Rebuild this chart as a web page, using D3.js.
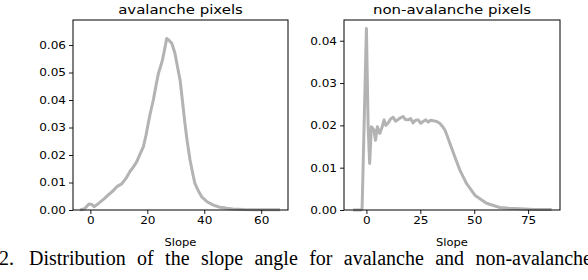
<!DOCTYPE html>
<html>
<head>
<meta charset="utf-8">
<script src="https://cdn.jsdelivr.net/npm/d3@7"></script>
<style>
  body { margin: 0; background: #fff; overflow: hidden; }
  svg { display: block; }
</style>
</head>
<body>
<div id="chart"></div>
<script>
// avalanche pixels: slope (deg) vs density
const avalancheSlope = [-3.6, -2, -0.5, 0.5, 1.3, 3, 5, 6.3, 8, 9.3, 11, 12.5, 13.9, 15, 16.3, 17.5, 18.6, 19.5, 20.1, 21, 22.1, 23, 23.9, 24.6, 25.3, 26, 26.8, 27.5, 28.6, 29.7, 30.6, 31.5, 32.3, 33.2, 34, 35, 36, 36.7, 38, 39.1, 41, 43.2, 45.5, 47.9, 50, 53.7, 58, 62, 66.6];
const avalancheDensity = [0, 0.0005, 0.0022, 0.002, 0.0012, 0.0025, 0.0042, 0.0055, 0.007, 0.0085, 0.0095, 0.0115, 0.014, 0.0155, 0.0176, 0.0205, 0.023, 0.027, 0.0303, 0.035, 0.04, 0.045, 0.0497, 0.052, 0.0545, 0.058, 0.0624, 0.0618, 0.0606, 0.057, 0.052, 0.0473, 0.040, 0.0315, 0.025, 0.0182, 0.013, 0.0097, 0.0068, 0.0048, 0.003, 0.0018, 0.001, 0.0006, 0.0004, 0.0002, 0.0001, 0.0001, 0.0001];

// non-avalanche pixels
const nonAvalancheSlope = [-6.2, -2.5, -2.0, 0, 0.8, 1.5, 2.3, 3.5, 4.2, 5.1, 6.2, 7.2, 8.2, 9, 10, 11.2, 12.4, 13.5, 14.7, 15.8, 17, 18, 19.3, 20.5, 21.6, 22.8, 24, 25.2, 26.3, 27.5, 28.7, 29.8, 30.9, 32, 33, 34, 35.2, 36.4, 37.5, 38.7, 41, 43.3, 46.4, 50.3, 55.7, 61.9, 66, 71.2, 78, 85.9];
const nonAvalancheDensity = [0, 0, 0.0004, 0.0429, 0.0197, 0.011, 0.0197, 0.0189, 0.0165, 0.0197, 0.0181, 0.0195, 0.0213, 0.0200, 0.0205, 0.0215, 0.0219, 0.0210, 0.0214, 0.0218, 0.0221, 0.0214, 0.0213, 0.0216, 0.0206, 0.0212, 0.0213, 0.0205, 0.0209, 0.0213, 0.0208, 0.0212, 0.0211, 0.0210, 0.0208, 0.0205, 0.0198, 0.0189, 0.0175, 0.0158, 0.0126, 0.0095, 0.0063, 0.0035, 0.0016, 0.0006, 0.0004, 0.0003, 0.0001, 0.0001];

const leftXTicks = [0, 20, 40, 60];
const leftYTicks = [0, 0.01, 0.02, 0.03, 0.04, 0.05, 0.06];
const rightXTicks = [0, 25, 50, 75];
const rightYTicks = [0, 0.01, 0.02, 0.03, 0.04];

const captionNumber = "2.";
const captionShown = "Distribution of the slope angle for avalanche and non-avalanche";
const captionRest = " pixels.";

const width = 588, height = 280;
const stretch = 1.15; // the figure is a bit wider than tall in the source

const svg = d3.select("#chart").append("svg")
    .attr("width", width)
    .attr("height", height);

function drawPanel(opts) {
    const x = d3.scaleLinear().domain(opts.xDomain).range([opts.left, opts.right]);
    const y = d3.scaleLinear().domain(opts.yDomain).range([opts.bottom, opts.top]);
    const g = svg.append("g");

    const line = d3.line()
        .x((d, i) => x(opts.xs[i]))
        .y(d => y(d));

    g.append("path")
        .datum(opts.ys)
        .attr("fill", "none")
        .attr("stroke", "#b3b3b3")
        .attr("stroke-width", 3)
        .attr("stroke-linejoin", "round")
        .attr("d", line);

    // axes
    const xAxis = g.append("g")
        .attr("transform", `translate(0,${opts.bottom})`)
        .call(d3.axisBottom(x).tickValues(opts.xTicks).tickFormat(d3.format("d")).tickSize(4).tickSizeOuter(0));
    const yAxis = g.append("g")
        .attr("transform", `translate(${opts.left},0)`)
        .call(d3.axisLeft(y).tickValues(opts.yTicks).tickFormat(d3.format(".2f")).tickSize(4).tickSizeOuter(0));

    [xAxis, yAxis].forEach(a => {
        a.select(".domain").remove();
        a.selectAll("line").attr("stroke", "#000").attr("stroke-width", 0.9);
        a.selectAll("text")
            .attr("font-family", "DejaVu Sans")
            .attr("font-size", 10.5)
            .attr("fill", "#000");
    });
    yAxis.selectAll("text").each(function() {
        const t = d3.select(this);
        t.attr("x", -7 / stretch).attr("transform", `scale(${stretch},1)`);
    });
    xAxis.selectAll("text").attr("y", 7).attr("transform", `scale(${stretch},1)`);

    // frame
    g.append("rect")
        .attr("x", opts.left).attr("y", opts.top)
        .attr("width", opts.right - opts.left)
        .attr("height", opts.bottom - opts.top)
        .attr("fill", "none")
        .attr("stroke", "#000")
        .attr("stroke-width", 1);

    const cx = (opts.left + opts.right) / 2;
    g.append("text")
        .attr("transform", `translate(${cx},14) scale(${stretch},1)`)
        .attr("text-anchor", "middle")
        .attr("font-family", "DejaVu Sans")
        .attr("font-size", 13)
        .text(opts.title);

    g.append("text")
        .attr("transform", `translate(${cx},246) scale(${stretch},1)`)
        .attr("text-anchor", "middle")
        .attr("font-family", "DejaVu Sans")
        .attr("font-size", 10)
        .text("Slope");
}

drawPanel({
    left: 73, right: 288, top: 20, bottom: 210,
    xDomain: [-6.1, 69.4], yDomain: [0, 0.0691],
    xs: avalancheSlope, ys: avalancheDensity,
    xTicks: leftXTicks, yTicks: leftYTicks,
    title: "avalanche pixels"
});

drawPanel({
    left: 344, right: 560, top: 20, bottom: 210,
    xDomain: [-10.4, 89.8], yDomain: [0, 0.0449],
    xs: nonAvalancheSlope, ys: nonAvalancheDensity,
    xTicks: rightXTicks, yTicks: rightYTicks,
    title: "non-avalanche pixels"
});

// caption: justified line running off the right edge
const cap = svg.append("text")
    .attr("y", 265)
    .attr("font-family", "Liberation Serif")
    .attr("font-size", 20)
    .attr("fill", "#000");
cap.append("tspan").attr("x", -1).text(captionNumber);
const shown = cap.append("tspan").attr("x", 29).text(captionShown);
const natural = shown.node().getComputedTextLength();
const gaps = captionShown.split(" ").length - 1;
const ws = Math.max(0, (592 - 29 - natural) / gaps);
shown.attr("word-spacing", ws);
cap.append("tspan").attr("word-spacing", ws).text(captionRest);
</script>
</body>
</html>
